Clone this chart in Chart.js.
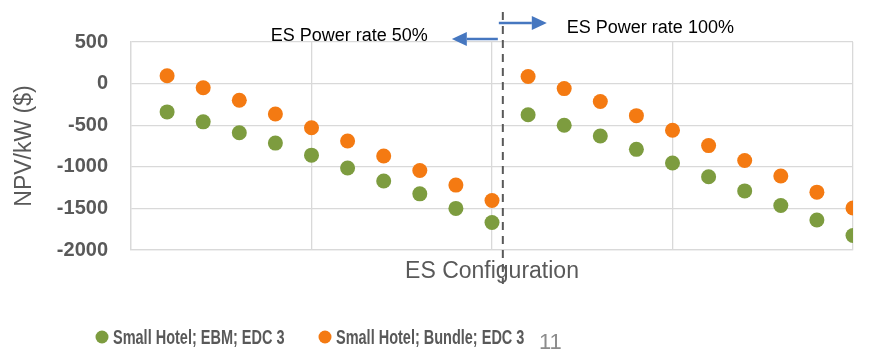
<!DOCTYPE html>
<html>
<head>
<meta charset="utf-8">
<script src="https://cdn.jsdelivr.net/npm/chart.js@4.4.1/dist/chart.umd.min.js"></script>
<style>
  html, body { margin: 0; padding: 0; background: #ffffff; }
  #wrap { width: 877px; height: 357px; position: relative; }
</style>
</head>
<body>
<div id="wrap"><canvas id="npv-chart"></canvas></div>
<script>
/*global Chart*/

// ES configuration index: 1-10 = power rate 50%, 11-20 = power rate 100%
const configIdx = [1, 2, 3, 4, 5, 6, 7, 8, 9, 10, 11, 12, 13, 14, 15, 16, 17, 18, 19, 20];
const ebmValues = [-340, -460, -590, -715, -860, -1015, -1170, -1325, -1500, -1670,
  -375, -500, -630, -790, -955, -1120, -1290, -1465, -1640, -1825];
const bundleValues = [95, -50, -200, -365, -530, -690, -870, -1045, -1220, -1405,
  85, -60, -215, -385, -560, -745, -925, -1110, -1305, -1495];
const seriesNames = ["Small Hotel; EBM; EDC 3", "Small Hotel; Bundle; EDC 3"];
const yTicks = [500, 0, -500, -1000, -1500, -2000];
const splitAt = 10.3;

const GREEN = "#7D9C3F";
const ORANGE = "#F47A12";
const GREY = "#595959";
const BLUE = "#4677C0";

function toPoints(values) {
  return configIdx.map((x, i) => ({ x: x, y: values[i] }));
}

function arrow(ctx, x1, x2, y) {
  const dir = x2 > x1 ? 1 : -1;
  const head = 15;
  ctx.strokeStyle = BLUE;
  ctx.fillStyle = BLUE;
  ctx.lineWidth = 2.5;
  ctx.beginPath();
  ctx.moveTo(x1, y);
  ctx.lineTo(x2 - dir * head, y);
  ctx.stroke();
  ctx.beginPath();
  ctx.moveTo(x2, y);
  ctx.lineTo(x2 - dir * head, y - 7);
  ctx.lineTo(x2 - dir * head, y + 7);
  ctx.closePath();
  ctx.fill();
}

// Dashed separator, arrows, captions, legend and slide number
const overlay = {
  id: "overlay",
  afterDraw(chart) {
    const ctx = chart.ctx;
    const lineX = chart.scales.x.getPixelForValue(splitAt);
    ctx.save();

    ctx.strokeStyle = GREY;
    ctx.lineWidth = 2;
    ctx.setLineDash([8, 6]);
    ctx.beginPath();
    ctx.moveTo(lineX, 12);
    ctx.lineTo(lineX, 284);
    ctx.stroke();
    ctx.setLineDash([]);

    arrow(ctx, lineX - 5, lineX - 51, 39);
    arrow(ctx, lineX - 4, lineX + 44, 23);

    ctx.fillStyle = "#000000";
    ctx.font = "18px 'Liberation Sans', Arial, sans-serif";
    ctx.textBaseline = "middle";
    ctx.textAlign = "right";
    ctx.fillText("ES Power rate 50%", lineX - 75, 36);
    ctx.textAlign = "left";
    ctx.fillText("ES Power rate 100%", lineX + 64, 28);

    // legend
    const colors = [GREEN, ORANGE];
    const starts = [102, 325];
    ctx.textBaseline = "alphabetic";
    ctx.font = "bold 21px 'Liberation Sans', Arial, sans-serif";
    seriesNames.forEach((name, i) => {
      ctx.fillStyle = colors[i];
      ctx.beginPath();
      ctx.arc(starts[i], 337, 6.5, 0, Math.PI * 2);
      ctx.fill();
      ctx.save();
      ctx.translate(starts[i] + 11, 344);
      ctx.scale(0.69, 1);
      ctx.fillStyle = GREY;
      ctx.fillText(name, 0, 0);
      ctx.restore();
    });

    ctx.fillStyle = "#8C8C8C";
    ctx.font = "22px 'Liberation Sans', Arial, sans-serif";
    ctx.fillText("11", 539, 349);
    ctx.restore();
  },
};

const ctx = document.getElementById("npv-chart").getContext("2d");

new Chart(ctx, {
  type: "scatter",
  plugins: [overlay],
  data: {
    datasets: [
      {
        label: seriesNames[0],
        data: toPoints(ebmValues),
        backgroundColor: GREEN,
        borderColor: GREEN,
        pointRadius: 7.5,
        borderWidth: 0,
      },
      {
        label: seriesNames[1],
        data: toPoints(bundleValues),
        backgroundColor: ORANGE,
        borderColor: ORANGE,
        pointRadius: 7.5,
        borderWidth: 0,
      },
    ],
  },
  options: {
    responsive: true,
    maintainAspectRatio: false,
    animation: false,
    layout: {
      padding: { top: 42, right: 24, left: 0, bottom: 0 },
    },
    scales: {
      x: {
        type: "linear",
        min: 0,
        max: 20,
        afterFit: (scale) => { scale.height = 107; },
        ticks: { stepSize: 5, display: false },
        grid: { color: "#D9D9D9", lineWidth: 1.3, drawTicks: false },
        border: { color: "#D9D9D9", width: 1.3 },
        title: {
          display: true,
          text: "ES Configuration",
          color: GREY,
          font: { family: "'Liberation Sans', Arial, sans-serif", size: 23 },
          padding: { top: 0, bottom: 72 },
        },
      },
      y: {
        min: -2000,
        max: 500,
        afterFit: (scale) => { scale.width = 131; },
        afterBuildTicks: (scale) => {
          scale.ticks = yTicks.map((v) => ({ value: v }));
        },
        ticks: {
          padding: 23,
          color: GREY,
          font: { family: "'Liberation Sans', Arial, sans-serif", size: 20, weight: "bold" },
          callback: (value) => String(value),
        },
        grid: { color: "#D9D9D9", lineWidth: 1.3, drawTicks: false },
        border: { color: "#D9D9D9", width: 1.3 },
        title: {
          display: true,
          text: "NPV/kW ($)",
          color: GREY,
          font: { family: "'Liberation Sans', Arial, sans-serif", size: 23 },
          padding: { top: 11, bottom: 0 },
        },
      },
    },
    plugins: {
      legend: { display: false },
      tooltip: { enabled: false },
    },
  },
});
</script>
</body>
</html>
